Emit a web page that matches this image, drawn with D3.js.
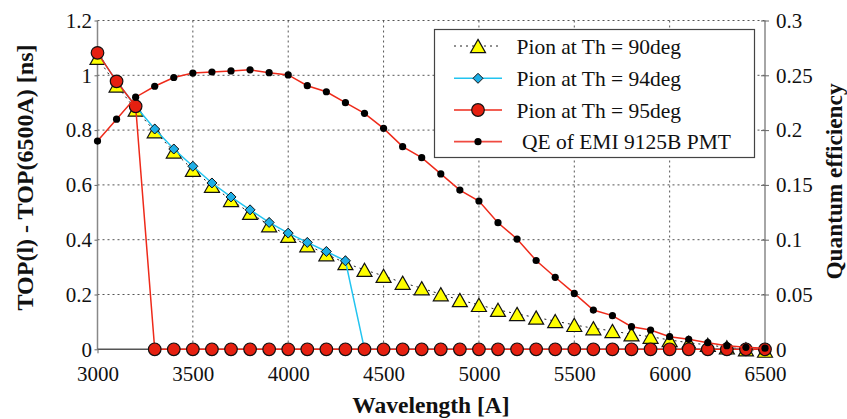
<!DOCTYPE html>
<html><head><meta charset="utf-8">
<script src="https://cdn.jsdelivr.net/npm/d3@7"></script>
<style>
body{margin:0;background:#fff;}
svg text{font-family:"Liberation Serif","Times New Roman",serif !important;fill:#111;}
</style></head>
<body><svg id="c" width="847" height="419"></svg>
<script>
const wavelengths = d3.range(3000, 6501, 100);
const pion90 = [1.064,0.963,0.875,0.796,0.722,0.655,0.597,0.545,0.498,0.453,0.414,0.380,0.347,0.315,0.290,0.268,0.243,0.223,0.201,0.180,0.162,0.144,0.129,0.116,0.103,0.089,0.077,0.067,0.055,0.046,0.034,0.024,0.016,0.007,0.000,-0.005];
const pion94 = [1.082,0.978,0.887,0.804,0.731,0.668,0.607,0.556,0.509,0.463,0.424,0.390,0.357,0.323,0,0,0,0,0,0,0,0,0,0,0,0,0,0,0,0,0,0,0,0,0,0];
const pion95 = [1.082,0.978,0.887,0,0,0,0,0,0,0,0,0,0,0,0,0,0,0,0,0,0,0,0,0,0,0,0,0,0,0,0,0,0,0,0,0];
const qe = [0.190,0.210,0.230,0.240,0.248,0.252,0.253,0.254,0.255,0.2524,0.2503,0.2405,0.235,0.225,0.2153,0.2016,0.1849,0.1748,0.160,0.1453,0.1353,0.1155,0.1006,0.081,0.0657,0.051,0.0358,0.0307,0.0206,0.0176,0.0115,0.0091,0.006,0.0033,0.0018,0.001];
const leftTicks = [0,0.2,0.4,0.6,0.8,1,1.2];
const rightTicks = [0,0.05,0.1,0.15,0.2,0.25,0.3];
const xTicks = [3000,3500,4000,4500,5000,5500,6000,6500];
const legendLabels = ["Pion at Th = 90deg","Pion at Th = 94deg","Pion at Th = 95deg"," QE of EMI 9125B PMT"];

const FONT = '"Liberation Serif","Times New Roman",serif';
const svg = d3.select("#c");
const L=97.5, R=765, T=20.5, B=349.3;
const x = d3.scaleLinear().domain([3000,6500]).range([L,R]);
const y = d3.scaleLinear().domain([0,1.2]).range([B,T]);
const y2 = d3.scaleLinear().domain([0,0.3]).range([B,T]);

// grid
const g = svg.append("g");
g.selectAll("line.vg").data(xTicks.slice(1,-1)).join("line")
 .attr("x1",d=>x(d)).attr("x2",d=>x(d)).attr("y1",T).attr("y2",B)
 .attr("stroke","#555").attr("stroke-width",1).attr("stroke-dasharray","2,3");
g.selectAll("line.hg").data(leftTicks.slice(1)).join("line")
 .attr("x1",L).attr("x2",R).attr("y1",d=>y(d)).attr("y2",d=>y(d))
 .attr("stroke","#555").attr("stroke-width",1).attr("stroke-dasharray","2,3");

// axes
const axL = d3.axisLeft(y).tickValues(leftTicks).tickFormat(d=>d3.format("")(d)).tickSize(3).tickPadding(2.5);
const gL = svg.append("g").attr("transform",`translate(${L},0)`).call(axL);
const axR = d3.axisRight(y2).tickValues(rightTicks).tickFormat(d=>d3.format("")(d)).tickSize(4).tickPadding(7);
const gR = svg.append("g").attr("transform",`translate(${R},0)`).call(axR);
gR.selectAll(".tick line").attr("x1",-4);
const axB = d3.axisBottom(x).tickValues(xTicks).tickFormat(d3.format("d")).tickSize(4).tickPadding(13);
const gB = svg.append("g").attr("transform",`translate(0,${B})`).call(axB);
[gL,gR,gB].forEach(a=>{
  a.attr("font-family",FONT).attr("font-size",21);
  a.selectAll(".domain").attr("stroke","#888").attr("stroke-width",1.5);
  a.selectAll(".tick line").attr("stroke","#666");
  a.selectAll(".tick text").style("font-size","21px").style("font-family",FONT).attr("fill","#111");
});
gL.select(".domain").attr("d",`M0,${T}V${B}`);
gR.select(".domain").attr("d",`M0,${T}V${B}`);
gB.select(".domain").attr("d",`M${L},0H${R}`).attr("stroke","#555");

// markers
const triPath = (s)=>{const h=s*0.88;return `M0,${-h/2}L${s/2},${h/2}L${-s/2},${h/2}Z`;};
const diaPath = (s)=>`M0,${-s/2}L${s/2},0L0,${s/2}L${-s/2},0Z`;

const pts = (arr)=>wavelengths.map((w,i)=>[w,arr[i]]);
const line = d3.line().x(d=>x(d[0])).y(d=>y(d[1]));
const line2 = d3.line().x(d=>x(d[0])).y(d=>y2(d[1]));

// 90deg
svg.append("path").attr("d",line(pts(pion90))).attr("fill","none").attr("stroke","#222").attr("stroke-width",1).attr("stroke-dasharray","2,4");
svg.append("g").selectAll("path").data(pts(pion90)).join("path")
 .attr("transform",d=>`translate(${x(d[0])},${y(d[1])})`).attr("d",triPath(15))
 .attr("fill","#ffff00").attr("stroke","#111").attr("stroke-width",1.2);
// 94deg
svg.append("path").attr("d",line(pts(pion94))).attr("fill","none").attr("stroke","#22c4f0").attr("stroke-width",1.5);
svg.append("g").selectAll("path").data(pts(pion94).slice(3,14)).join("path")
 .attr("transform",d=>`translate(${x(d[0])},${y(d[1])})`).attr("d",diaPath(10))
 .attr("fill","#1eaee6").attr("stroke","#111").attr("stroke-width",1);
// 95deg
svg.append("path").attr("d",line(pts(pion95))).attr("fill","none").attr("stroke","#ee2a1a").attr("stroke-width",1.5);
svg.append("g").selectAll("circle").data(pts(pion95)).join("circle")
 .attr("cx",d=>x(d[0])).attr("cy",d=>y(d[1])).attr("r",6.3)
 .attr("fill","#e62010").attr("stroke","#111").attr("stroke-width",1.2);
// QE
svg.append("path").attr("d",line2(pts(qe))).attr("fill","none").attr("stroke","#ee2a1a").attr("stroke-width",1.5);
svg.append("g").selectAll("circle").data(pts(qe)).join("circle")
 .attr("cx",d=>x(d[0])).attr("cy",d=>y2(d[1])).attr("r",3.6).attr("fill","#000");

// legend
const lg = svg.append("g");
lg.append("rect").attr("x",434.5).attr("y",29.5).attr("width",320).attr("height",128)
 .attr("fill","#fff").attr("stroke","#444").attr("stroke-width",1.2);
const rows=[46,78.3,110,141.7];
const lx1=454, lx2=502, mx=478;
lg.append("line").attr("x1",lx1).attr("x2",lx2).attr("y1",rows[0]).attr("y2",rows[0]).attr("stroke","#222").attr("stroke-dasharray","2,4");
lg.append("path").attr("transform",`translate(${mx},${rows[0]})`).attr("d",triPath(15)).attr("fill","#ffff00").attr("stroke","#111").attr("stroke-width",1.2);
lg.append("line").attr("x1",lx1).attr("x2",lx2).attr("y1",rows[1]).attr("y2",rows[1]).attr("stroke","#22c4f0").attr("stroke-width",1.5);
lg.append("path").attr("transform",`translate(${mx},${rows[1]})`).attr("d",diaPath(10)).attr("fill","#1eaee6").attr("stroke","#111");
lg.append("line").attr("x1",lx1).attr("x2",lx2).attr("y1",rows[2]).attr("y2",rows[2]).attr("stroke","#ee2a1a").attr("stroke-width",1.5);
lg.append("circle").attr("cx",mx).attr("cy",rows[2]).attr("r",6.3).attr("fill","#e62010").attr("stroke","#111").attr("stroke-width",1.2);
lg.append("line").attr("x1",lx1).attr("x2",lx2).attr("y1",rows[3]).attr("y2",rows[3]).attr("stroke","#f04a40").attr("stroke-width",1.8);
lg.append("circle").attr("cx",mx).attr("cy",rows[3]).attr("r",3.6).attr("fill","#000");
lg.selectAll("text").data(legendLabels).join("text")
 .attr("x",516.5).attr("y",(d,i)=>rows[i]).attr("dy","0.35em")
 .style("font-family",FONT).style("font-size","21.5px").style("white-space","pre").text(d=>d);

// titles
svg.append("text").attr("x",431).attr("y",413).attr("text-anchor","middle")
 .style("font-family",FONT).style("font-size","23.5px").style("font-weight","bold").text("Wavelength [A]");
svg.append("text").attr("transform","translate(33,177.5) rotate(-90)").attr("text-anchor","middle")
 .style("font-family",FONT).style("font-size","24px").style("font-weight","bold").text("TOP(l) - TOP(6500A) [ns]");
svg.append("text").attr("transform","translate(842,181.5) rotate(-90)").attr("text-anchor","middle")
 .style("font-family",FONT).style("font-size","23.3px").style("font-weight","bold").text("Quantum efficiency");
</script></body></html>
